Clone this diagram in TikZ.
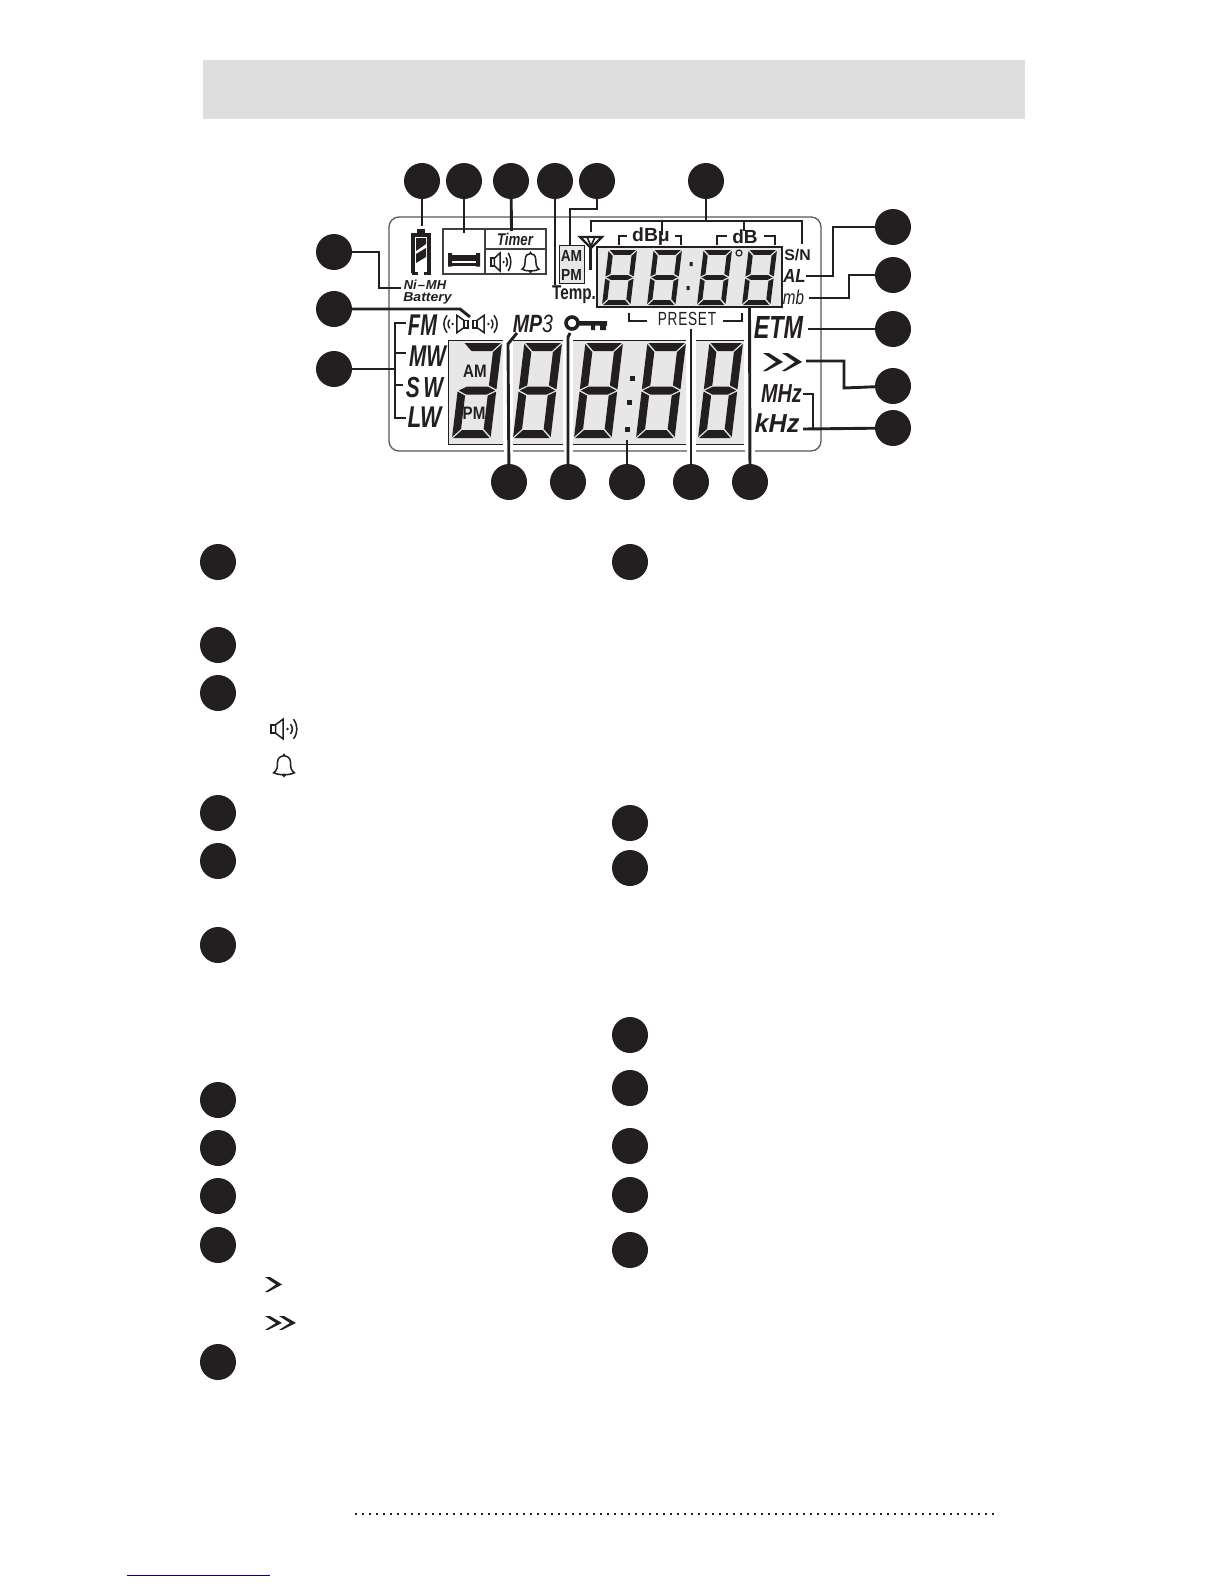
\documentclass[tikz,border=0pt]{standalone}
\usepackage{fontspec}
\setmainfont{Liberation Sans}
\newcommand\fbi[1]{\fontsize{#1}{#1}\selectfont\bfseries\itshape}
\newcommand\fri[1]{\fontsize{#1}{#1}\selectfont\itshape}
\newcommand\fbb[1]{\fontsize{#1}{#1}\selectfont\bfseries}
\newcommand\frr[1]{\fontsize{#1}{#1}\selectfont}
\definecolor{ink}{HTML}{231F20}
\definecolor{lcd}{HTML}{E7E7E7}
\tikzset{
  dotc/.style={circle,fill=ink,draw=none,inner sep=0pt,minimum size=36pt},
  lead/.style={draw=ink,line width=2.9pt,line join=miter},
  thin br/.style={draw=ink,line width=2pt},
  lab/.style={inner sep=0pt,anchor=center,transform shape,text=ink},
  seg/.style={fill=ink,draw=none},
  icon/.style={draw=ink,line width=1.5pt},
}
% seven segment pieces
\newcommand\segT{\fill[seg] (\dg,0)--(\dw-\dg,0)--(\dw-\dg-\dt,\dt)--(\dg+\dt,\dt)--cycle;}
\newcommand\segB{\fill[seg] (\dg,\dh)--(\dw-\dg,\dh)--(\dw-\dg-\dt,\dh-\dt)--(\dg+\dt,\dh-\dt)--cycle;}
\newcommand\segM{\fill[seg] (\dg,\dh/2)--(\dg+\dt,\dh/2-\dt/2)--(\dw-\dg-\dt,\dh/2-\dt/2)--(\dw-\dg,\dh/2)--(\dw-\dg-\dt,\dh/2+\dt/2)--(\dg+\dt,\dh/2+\dt/2)--cycle;}
\newcommand\segUL{\fill[seg] (0,\dg)--(\dt,\dg+\dt)--(\dt,\dh/2-\dt/2-\dg)--(0,\dh/2-\dg)--cycle;}
\newcommand\segUR{\fill[seg] (\dw,\dg)--(\dw-\dt,\dg+\dt)--(\dw-\dt,\dh/2-\dt/2-\dg)--(\dw,\dh/2-\dg)--cycle;}
\newcommand\segLL{\fill[seg] (0,\dh-\dg)--(\dt,\dh-\dg-\dt)--(\dt,\dh/2+\dt/2+\dg)--(0,\dh/2+\dg)--cycle;}
\newcommand\segLR{\fill[seg] (\dw,\dh-\dg)--(\dw-\dt,\dh-\dg-\dt)--(\dw-\dt,\dh/2+\dt/2+\dg)--(\dw,\dh/2+\dg)--cycle;}
\newcommand\alldigit{\segT\segB\segM\segUL\segUR\segLL\segLR}
% x y totalwidth height thick segments
\newcommand\digitat[6]{%
  \begin{scope}[shift={({#1+0.12*#4},#2)},xslant=0.12]
    \pgfmathsetmacro\dw{#3-0.12*#4}
    \pgfmathsetmacro\dh{#4}
    \pgfmathsetmacro\dt{#5}
    \def\dg{1.1}
    #6
  \end{scope}}
\newcommand\speakerat[4]{%
  \begin{scope}[shift={(#1,#2)},xscale=#3,yscale=#4]
    \draw[icon] (0,-3) rectangle (3,3);
    \draw[icon,fill=white] (3,-3)--(8,-7)--(8,7)--(3,3)--cycle;
    \fill[ink] (11,0) circle (1);
    \draw[icon] (13,-3.5) .. controls (14.6,-1.5) and (14.6,1.5) .. (13,3.5);
    \draw[icon] (15,-7) .. controls (18,-2.5) and (18,2.5) .. (15,7);
  \end{scope}}
\newcommand\bellat[4]{%
  \begin{scope}[shift={(#1,#2)},xscale=#3,yscale=#4]
    \draw[icon] (-8,6) .. controls (-5,4) and (-5,1) .. (-5,-2) .. controls (-5,-6) and (-2,-7) .. (0,-7) .. controls (2,-7) and (5,-6) .. (5,-2) .. controls (5,1) and (5,4) .. (8,6) .. controls (4,8) and (-4,8) .. (-8,6) -- cycle;
    \fill[ink] (0,-8) circle (1);
    \fill[ink] (0,8) circle (1.5);
  \end{scope}}
\newcommand\chevat[4]{%
  \fill[ink,shift={(#1,#2)},xscale=#3,yscale=#4] (0,0)--(5,0)--(17,7.5)--(3,15)--(0,15)--(11,7.5)--cycle;}
\begin{document}
\begin{tikzpicture}[x=1pt,y=-1pt]
\useasboundingbox (0,0) rectangle (1224,1584);
\fill[white] (0,0) rectangle (1224,1584);
% header band
\fill[black!13] (203,60) rectangle (1025,119);
% LCD frame
\draw[draw=black!65,line width=1.3pt,rounded corners=10pt] (389,217) rectangle (821,451);
% small display
\fill[lcd] (597,247) rectangle (782,307);
\draw[draw=ink,line width=1.1pt] (597,247) rectangle (782,307);
\digitat{602}{250}{35}{55}{4.8}{\alldigit}
\digitat{647}{250}{35}{55}{4.8}{\alldigit}
\digitat{697}{250}{35}{55}{4.8}{\alldigit}
\digitat{742}{250}{35}{55}{4.8}{\alldigit}
\fill[ink] (689.5,262) rectangle (692.5,266) (686.5,286) rectangle (689.5,290);
\draw[ink,line width=1.2pt] (739,253) circle (3);
% large display panels
\fill[lcd] (448,340) rectangle (503,444);
\fill[lcd] (513,340) rectangle (563,444);
\fill[lcd] (573,340) rectangle (686,444);
\fill[lcd] (696,340) rectangle (744,444);
\draw[draw=ink,line width=1pt] (503,340)--(448,340)--(448,444)--(503,444);
\foreach \a/\b in {513/563,573/686,696/744}{
  \draw[draw=ink,line width=1pt] (\a,340)--(\b,340) (\a,444)--(\b,444);}
% frame gaps beside leaders
\fill[white] (503.5,336) rectangle (512.5,456);
\fill[white] (563.5,336) rectangle (572.5,456);
\fill[white] (686.5,336) rectangle (695.5,456);
\fill[white] (744.5,336) rectangle (755,456);
\digitat{452}{343}{50}{95}{8}{\segT\segUR\segM\segLL\segLR\segB}
\digitat{513}{343}{49}{95}{8}{\alldigit}
\digitat{574}{343}{49}{95}{8}{\alldigit}
\digitat{636}{343}{50}{95}{8}{\alldigit}
\digitat{698}{343}{45}{95}{8}{\alldigit}
\fill[ink] (629.5,375.5) rectangle (634.5,380.5);
\fill[ink] (626.5,399.5) rectangle (631.5,404.5);
\fill[ink] (624.5,426.5) rectangle (629.5,431.5);
\node[lab,font={\fbb{18}},xscale=.84] (amB) at (475,371) {AM};
\node[lab,font={\fbb{18}},xscale=.84] (pmB) at (474,413) {PM};
% battery
\fill[ink] (417,229) rectangle (425,234);
\draw[ink,line width=3.6pt] (413,273) -- (413,235) -- (429,235) -- (429,273);
\draw[ink,line width=2.4pt] (411.5,273.5) -- (418,273.5) (424,273.5) -- (430.5,273.5);
\fill[ink] (416,238) -- (426,238) -- (426,244) -- (416,251) -- cycle;
\fill[ink] (416,254) -- (426,248) -- (426,257) -- (416,263) -- cycle;
\node[lab,font={\fbi{13}}] (nimh) at (425,285) {Ni{\kern1pt--\kern1pt}MH};
\node[lab,font={\fbi{13}},xscale=1.08] (batt) at (427.5,298) {Battery};
% timer box
\draw[draw=black!75,line width=1.2pt] (443,229) rectangle (546,274);
\draw[draw=black!75,line width=1.2pt] (485,229)--(485,274) (485,249)--(546,249);
\fill[ink] (448,253) rectangle (452,266.5) (476,253) rectangle (480,266.5);
\fill[ink] (451,255) rectangle (477,260.5);
\fill[ink] (451,263) rectangle (477,265.5);
\node[lab,font={\fbi{17}},xscale=.78] (timer) at (515,239) {Timer};
\speakerat{491}{262}{1.15}{1.3}
\bellat{530.5}{262}{1.05}{1.2}
% AM PM box
\fill[lcd,draw=ink,line width=1pt] (559,245) rectangle (584,283);
\node[lab,font={\fbb{16}},xscale=.86] (amS) at (571.5,256) {AM};
\node[lab,font={\fbb{16}},xscale=.86] (pmS) at (571.5,274.5) {PM};
\node[lab,font={\fbb{20}},xscale=.76] (temp) at (574,294.5) {Temp.};
% antenna
\draw[ink,line width=2.2pt,line join=miter] (580,237)--(602,237)--(591,248)--cycle;
\draw[ink,line width=1.6pt] (587,237)--(591,246)--(595,237);
\draw[ink,line width=2.9pt] (590.5,245)--(590.5,270);
% dB labels
\node[lab,font={\fbb{19}},xscale=1.02] (dbu) at (651,237) {dBμ};
\node[lab,font={\fbb{19}}] (db) at (745,237) {dB};
\draw[thin br] (619,245)--(619,235.5)--(627,235.5);
\draw[thin br] (675,235.5)--(681,235.5)--(681,245);
\draw[thin br] (717,245)--(717,235.5)--(727,235.5);
\draw[thin br] (764,235.5)--(775,235.5)--(775,245);
\node[lab,font={\fbb{15.5}},xscale=1.02] (sn) at (797.5,255) {S/N};
\node[lab,font={\fbi{19}},xscale=.88] (al) at (794.5,276) {AL};
\node[lab,font={\fri{20}},xscale=.76] (mb) at (793.5,297) {mb};
% preset
\node[lab,font={\frr{19}},xscale=.72] (preset) at (687,319) {P\kern1pt R\kern1pt E\kern1pt S\kern1pt E\kern1pt T};
\draw[thin br] (629,312.5)--(629,321)--(647,321);
\draw[thin br] (723,321)--(741.5,321)--(741.5,312.5);
% band labels
\node[lab,font={\fbi{30}},xscale=.67] (fm) at (422.5,325) {FM};
\node[lab,font={\fbi{30}},xscale=.69] (mw) at (427.5,356) {MW};
\node[lab,font={\fbi{29}},xscale=.72] (sw) at (424.5,387.5) {S\,W};
\node[lab,font={\fbi{30}},xscale=.75] (lw) at (424.5,417.5) {LW};
\speakerat{468}{324}{-1.4}{1.25}
\speakerat{473}{324}{1.4}{1.25}
\node[lab,font={\fbi{25}},xscale=.78] (mp3) at (533,323.5) {MP{\fontseries{m}\selectfont 3}};
% key
\draw[ink,line width=3.6pt] (572,323) circle (6);
\fill[ink] (578,321) rectangle (607,325.5) (591,325) rectangle (595,330) (600,325) rectangle (606,330);
% right labels
\node[lab,font={\fbi{32}},xscale=.73] (etm) at (778.5,327.5) {ETM};
\chevat{763}{353}{1.18}{1.2}
\chevat{782}{353}{1.18}{1.2}
\node[lab,font={\fbi{26}},xscale=.76] (mhz) at (781.5,394) {MHz};
\node[lab,font={\fbi{26}},xscale=.97] (khz) at (777,423.5) {kHz};
% numbered dots of the display
\foreach \n/\x/\y in {t1/422/181,t2/464/181,t3/511/181,t4/555/181,t5/597/181,t6/706/181,
  l1/334/252,l2/334/309,l3/334/369,
  r1/893/227,r2/893/275,r3/893/329,r4/893/386,r5/893/428,
  b1/509/482,b2/568/482,b3/627/482,b4/691/482,b5/750/482}{
  \node[dotc] (\n) at (\x,\y) {};}
% end points
\coordinate (et1) at (422,226);
\coordinate (et2) at (464,233);
\coordinate (et3) at (511.5,231);
\coordinate (et4) at (555,285);
\coordinate (et5) at (570,245);
\coordinate (et6) at (706,221);
\coordinate (er1) at (806,276);
\coordinate (er2) at (809,298);
\coordinate (er3) at (808,329);
\coordinate (er4) at (806,361);
\coordinate (er5) at (803,429);
\coordinate (el1) at (401,288);
\coordinate (el2) at (470,317);
\coordinate (el3) at (395,369);
\coordinate (eb1) at (517,333);
\coordinate (eb2) at (570,333);
\coordinate (eb3) at (627,440);
\coordinate (eb4) at (691,329);
\coordinate (eb5) at (749.5,307);
% connectors
\draw[lead] (t1) -- (et1);
\draw[lead] (t2) -- (et2);
\draw[lead] (t3) -- (et3);
\draw[lead] (t4) -- (et4);
\draw[lead] (t5) -- (597,209) -- (570,209) -- (et5);
\draw[lead] (t6) -- (et6);
\draw[lead] (591,232) -- (591,221) -- (802,221) -- (802,244);
\draw[lead] (662,221) -- (662,235);
\draw[lead] (744,221) -- (744,231);
\draw[lead] (r1) -- (833,227) -- (833,276) -- (er1);
\draw[lead] (r2) -- (849,275) -- (849,298) -- (er2);
\draw[lead] (r3) -- (er3);
\draw[lead] (r4) -- (844,388) -- (844,361) -- (er4);
\draw[lead] (r5) -- (er5);
\draw[lead] (803,394) -- (813,394) -- (813,429);
\draw[lead] (l1) -- (379,252) -- (379,288) -- (el1);
\draw[lead] (l2) -- (460,309) -- (el2);
\draw[lead] (l3) -- (el3);
\draw[lead] (406,323) -- (395,323) -- (395,418) -- (406,418);
\draw[lead] (395,353) -- (406,353);
\draw[lead] (395,385) -- (403,385);
\draw[lead] (b1) -- (508,344) -- (eb1);
\draw[lead] (b2) -- (568,337) -- (eb2);
\draw[lead] (b3) -- (eb3);
\draw[lead] (b4) -- (eb4);
\draw[lead] (b5) -- (eb5);
% list bullets
\foreach \y in {562,645,693,813,861,945,1100,1148,1196,1245,1362}{
  \node[dotc] (a\y) at (218,\y) {};}
\foreach \y in {562,823,868,1035,1088,1146,1195,1250}{
  \node[dotc] (d\y) at (630,\y) {};}
\speakerat{271}{729}{1.5}{1.4}
\bellat{284}{765}{1.3}{1.3}
\chevat{265}{1277}{1}{1}
\chevat{265}{1316}{1}{.93}
\chevat{279}{1316}{1}{.93}
% footer
\draw[ink,line width=2.2pt,dash pattern=on 2pt off 5pt] (355,1514)--(995,1514);
\draw[draw=blue!55!black,line width=1pt] (127,1575)--(270,1575);
\end{tikzpicture}
\end{document}
